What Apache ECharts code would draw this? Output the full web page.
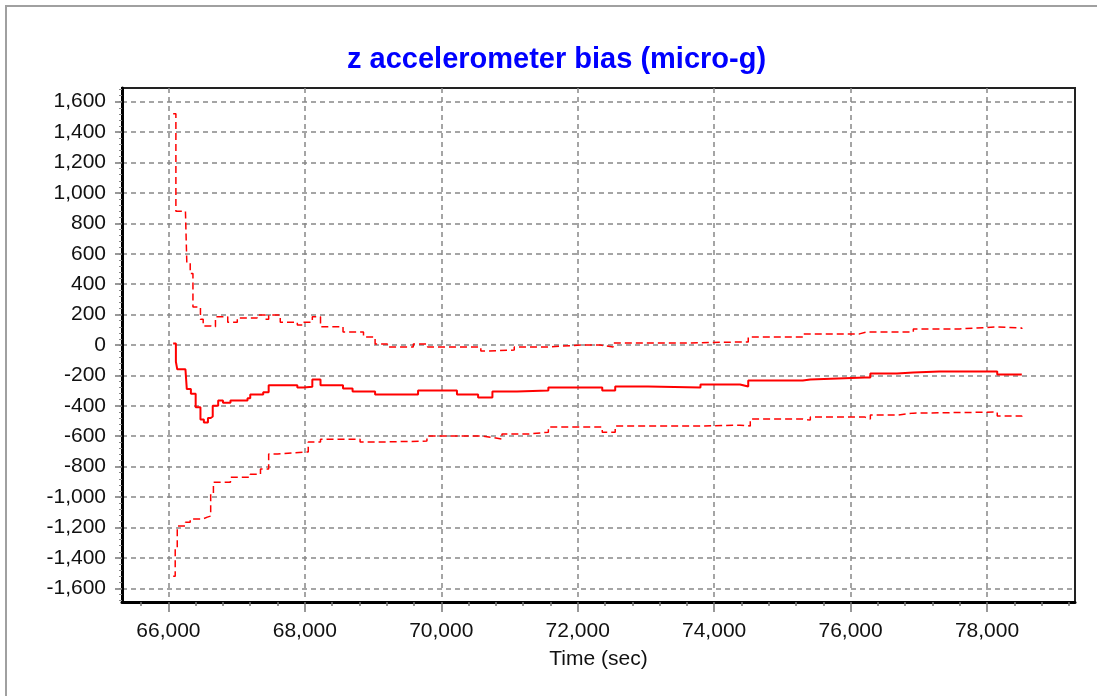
<!DOCTYPE html>
<html>
<head>
<meta charset="utf-8">
<script src="https://cdn.jsdelivr.net/npm/echarts@6/dist/echarts.min.js"></script>
<style>
html,body{margin:0;padding:0;background:#fff;}
#chart{width:1097px;height:696px;}
</style>
</head>
<body>
<div id="chart"></div>
<script>
var titleText = 'z accelerometer bias (micro-g)';
var xName = 'Time (sec)';
var xMin = 65320, xMax = 79290;
var yMin = -1690, yMax = 1690;
var xTicks = [66000, 68000, 70000, 72000, 74000, 76000, 78000];
var yTicks = [-1600, -1400, -1200, -1000, -800, -600, -400, -200, 0, 200, 400, 600, 800, 1000, 1200, 1400, 1600];
var xMinorTicks = [65600, 66000, 66400, 66800, 67200, 67600, 68000, 68400, 68800, 69200, 69600, 70000, 70400, 70800, 71200, 71600, 72000, 72400, 72800, 73200, 73600, 74000, 74400, 74800, 75200, 75600, 76000, 76400, 76800, 77200, 77600, 78000, 78400, 78800, 79200];
var yMinorTicks = [];
for (var v = -1680; v <= 1680; v += 40) { yMinorTicks.push(v); }

var centerBias = [
  [66070, 10], [66110, -110], [66130, -160], [66250, -160], [66270, -290], [66330, -320],
  [66400, -410], [66470, -490], [66520, -510], [66580, -480], [66620, -470], [66650, -400],
  [66730, -365], [66800, -380], [66910, -365], [67160, -350], [67200, -325], [67390, -310],
  [67470, -265], [67890, -280], [67980, -275], [68110, -227], [68230, -265], [68560, -286],
  [68700, -306], [69030, -326], [69620, -326], [69660, -300], [70230, -326], [70540, -346],
  [70750, -306], [71110, -300], [71570, -280], [72360, -300], [72550, -273], [73030, -280],
  [73800, -260], [74380, -273], [74500, -234], [75300, -227], [75410, -214], [76210, -214],
  [76290, -188], [76680, -181], [76920, -174], [77300, -174], [78150, -194], [78510, -194]
];
var upperBound = [
  [66070, 1520], [66110, 880], [66250, 870], [66270, 540], [66320, 470], [66360, 250],
  [66470, 170], [66510, 125], [66620, 120], [66690, 185], [66870, 150], [67010, 178],
  [67300, 198], [67420, 170], [67470, 198], [67640, 150], [67890, 132], [67980, 150],
  [68110, 185], [68230, 120], [68560, 86], [68860, 53], [69030, 7], [69210, -13],
  [69590, 7], [69800, -13], [70580, -39], [70680, -33], [71070, -13], [71550, 0],
  [72080, 0], [72330, -13], [72520, 13], [73550, 20], [74380, 20], [74500, 53],
  [75300, 73], [76130, 86], [76240, 86], [76920, 106], [77600, 119], [78150, 112], [78510, 106]
];
var lowerBound = [
  [66070, -1520], [66100, -1340], [66130, -1190], [66250, -1165], [66320, -1145], [66500, -1132],
  [66570, -1125], [66620, -980], [66660, -902], [66910, -870], [67200, -850], [67350, -816],
  [67470, -717], [67600, -704], [67980, -704], [68050, -638], [68230, -619], [68560, -619],
  [68810, -638], [69100, -632], [69790, -599], [70130, -599], [70610, -606], [70720, -619],
  [70890, -586], [71260, -573], [71570, -540], [72360, -573], [72550, -533], [73800, -527],
  [74380, -533], [74530, -487], [75300, -494], [75410, -474], [76210, -487], [76290, -461],
  [76680, -448], [76920, -441], [78150, -467], [78510, -474]
];

var FONT = '"Liberation Sans", Arial, sans-serif';
var chart = echarts.init(document.getElementById('chart'));
var fmt = function (v) { return Math.round(v).toLocaleString('en-US'); };

chart.setOption({
  animation: false,
  backgroundColor: '#ffffff',
  title: {
    text: titleText,
    left: 342,
    top: 40,
    textStyle: { color: '#0000ff', fontSize: 29, fontWeight: 'bold', fontFamily: FONT }
  },
  graphic: [{
    type: 'rect', silent: true,
    shape: { x: 6, y: 6, width: 1200, height: 800 },
    style: { fill: 'none', stroke: '#a0a0a0', lineWidth: 2 }
  }],
  grid: {
    left: 122, right: 22, top: 88, bottom: 94,
    show: true, borderColor: '#222', borderWidth: 2, backgroundColor: '#fff',
    containLabel: false, outerBoundsMode: 'none'
  },
  xAxis: [{
    type: 'value', min: xMin, max: xMax, position: 'bottom',
    name: xName, nameLocation: 'middle', nameGap: 47,
    nameTextStyle: { fontSize: 21, color: '#111', fontFamily: FONT },
    axisLine: { show: true, onZero: false, lineStyle: { color: '#000', width: 3 } },
    axisTick: { show: true, length: 10, customValues: xTicks, lineStyle: { color: '#777', width: 1.5 } },
    axisLabel: { show: true, customValues: xTicks, margin: 19, fontSize: 21, color: '#111', fontFamily: FONT, formatter: fmt },
    splitLine: { show: true, lineStyle: { color: '#888', width: 1.5, type: [5, 4] } }
  }, {
    type: 'value', min: xMin, max: xMax, position: 'bottom', offset: 0,
    axisLine: { show: false, onZero: false },
    axisTick: { show: true, length: 4, customValues: xMinorTicks, lineStyle: { color: '#777', width: 1.5 } },
    axisLabel: { show: false },
    splitLine: { show: false }
  }],
  yAxis: [{
    type: 'value', min: yMin, max: yMax, position: 'left',
    axisLine: { show: true, onZero: false, lineStyle: { color: '#000', width: 3 } },
    axisTick: { show: true, length: 7, customValues: yTicks, lineStyle: { color: '#777', width: 1.5 } },
    axisLabel: { show: true, customValues: yTicks, margin: 16, fontSize: 21, color: '#111', fontFamily: FONT, formatter: fmt },
    splitLine: { show: true, lineStyle: { color: '#888', width: 1.5, type: [5, 4] } }
  }, {
    type: 'value', min: yMin, max: yMax, position: 'left', offset: 0,
    axisLine: { show: false, onZero: false },
    axisTick: { show: true, length: 3, customValues: yMinorTicks, lineStyle: { color: '#888', width: 1 } },
    axisLabel: { show: false },
    splitLine: { show: false }
  }],
  series: [{
    type: 'line', name: 'upper', data: upperBound, showSymbol: false, symbol: 'none', step: 'end',
    xAxisIndex: 0, yAxisIndex: 0, clip: true,
    lineStyle: { color: '#ff0000', width: 1.5, type: [7, 4] }
  }, {
    type: 'line', name: 'bias', data: centerBias, showSymbol: false, symbol: 'none', step: 'end',
    xAxisIndex: 0, yAxisIndex: 0, clip: true,
    lineStyle: { color: '#ff0000', width: 2 }
  }, {
    type: 'line', name: 'lower', data: lowerBound, showSymbol: false, symbol: 'none', step: 'end',
    xAxisIndex: 0, yAxisIndex: 0, clip: true,
    lineStyle: { color: '#ff0000', width: 1.5, type: [7, 4] }
  }]
});
</script>
</body>
</html>
